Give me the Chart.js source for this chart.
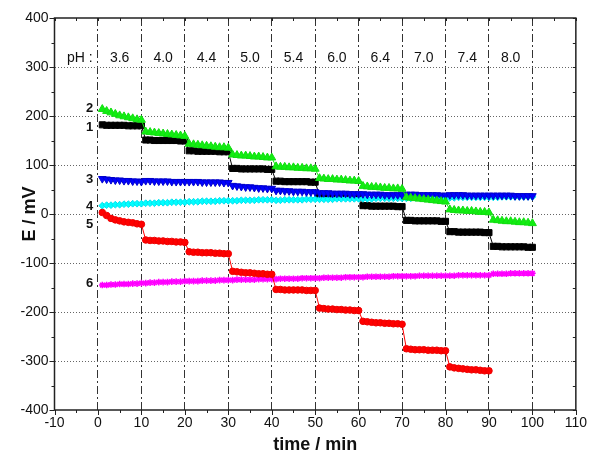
<!DOCTYPE html>
<html>
<head>
<meta charset="utf-8">
<script src="https://cdn.jsdelivr.net/npm/chart.js@4.4.0/dist/chart.umd.min.js"></script>
<style>
  html, body { margin: 0; padding: 0; background: #fff; }
</style>
</head>
<body>
<canvas id="chart" width="592" height="456"></canvas>
<script>
// one reading per minute
const minutes = [
  1, 2, 3, 4, 5, 6, 7, 8, 9, 10,
  11, 12, 13, 14, 15, 16, 17, 18, 19, 20,
  21, 22, 23, 24, 25, 26, 27, 28, 29, 30,
  31, 32, 33, 34, 35, 36, 37, 38, 39, 40,
  41, 42, 43, 44, 45, 46, 47, 48, 49, 50,
  51, 52, 53, 54, 55, 56, 57, 58, 59, 60,
  61, 62, 63, 64, 65, 66, 67, 68, 69, 70,
  71, 72, 73, 74, 75, 76, 77, 78, 79, 80,
  81, 82, 83, 84, 85, 86, 87, 88, 89, 90,
  91, 92, 93, 94, 95, 96, 97, 98, 99, 100
];

// pH of each 10 min step
const phLabels = ['3.6', '4.0', '4.4', '5.0', '5.4', '6.0', '6.4', '7.0', '7.4', '8.0'];
const phStart = [0, 10, 20, 30, 40, 50, 60, 70, 80, 90];

// E / mV for each electrode
const curve1 = [
  182, 181, 181, 181, 181, 181, 180, 180, 180, 180,
  151, 151, 150, 150, 150, 150, 150, 150, 149, 149,
  129, 129, 128, 128, 128, 128, 128, 127, 127, 127,
  93, 93, 92, 92, 92, 92, 92, 92, 91, 91,
  67, 67, 66, 66, 66, 66, 66, 66, 65, 65,
  38, 38, 37, 37, 37, 37, 37, 37, 36, 36,
  17, 17, 16, 16, 16, 16, 16, 16, 15, 15,
  -13, -13, -14, -14, -14, -14, -14, -14, -15, -15,
  -36, -36, -37, -37, -37, -37, -37, -37, -38, -38,
  -66, -66, -67, -67, -67, -67, -67, -67, -68, -68
];
const curve2 = [
  214, 210, 207, 204, 201, 199, 197, 195, 193, 192,
  168, 167, 166, 165, 164, 163, 162, 161, 160, 159,
  143, 142, 141, 140, 139, 138, 137, 136, 136, 135,
  121, 120, 119, 119, 118, 117, 117, 116, 115, 115,
  97, 96, 96, 95, 95, 94, 94, 93, 93, 92,
  73, 72, 71, 71, 70, 70, 69, 68, 68, 67,
  57, 56, 55, 55, 54, 53, 53, 52, 52, 51,
  34, 33, 32, 31, 30, 29, 28, 27, 26, 25,
  9, 8, 7, 7, 6, 6, 5, 4, 4, 3,
  -12, -13, -14, -15, -15, -16, -17, -17, -18, -19
];
const curve3 = [
  72, 71, 70, 69, 69, 68, 68, 67, 67, 66,
  68, 68, 67, 67, 67, 67, 66, 66, 66, 66,
  66, 66, 66, 65, 65, 65, 65, 65, 64, 64,
  58, 57, 56, 55, 55, 54, 53, 53, 52, 52,
  48, 48, 47, 47, 46, 46, 46, 45, 45, 45,
  43, 43, 43, 42, 42, 42, 42, 41, 41, 41,
  41, 40, 40, 40, 40, 39, 39, 39, 39, 39,
  40, 40, 40, 39, 39, 39, 39, 39, 38, 38,
  39, 39, 39, 39, 38, 38, 38, 38, 38, 38,
  38, 38, 38, 38, 38, 37, 37, 37, 37, 37
];
const curve4 = [
  17, 18, 18, 19, 19, 20, 20, 21, 21, 21,
  22, 22, 22, 23, 23, 23, 24, 24, 24, 24,
  25, 25, 25, 26, 26, 26, 26, 27, 27, 27,
  27, 27, 28, 28, 28, 28, 29, 29, 29, 29,
  28, 28, 29, 29, 29, 29, 29, 30, 30, 30,
  30, 30, 30, 30, 31, 31, 31, 31, 31, 31,
  31, 31, 31, 32, 32, 32, 32, 32, 32, 32,
  32, 32, 33, 33, 33, 33, 33, 33, 33, 33,
  33, 33, 34, 34, 34, 34, 34, 34, 34, 34,
  34, 34, 35, 35, 35, 35, 35, 35, 35, 35
];
const curve5 = [
  3, -3, -9, -12, -14, -16, -17, -18, -20, -21,
  -53, -54, -54, -55, -55, -56, -56, -57, -57, -58,
  -77, -78, -78, -79, -79, -79, -80, -80, -81, -81,
  -117, -118, -119, -120, -120, -121, -122, -122, -123, -123,
  -154, -154, -155, -155, -155, -155, -155, -156, -156, -156,
  -192, -193, -194, -194, -195, -195, -196, -196, -197, -197,
  -219, -220, -221, -222, -222, -223, -223, -224, -224, -225,
  -275, -276, -277, -277, -277, -278, -278, -278, -279, -279,
  -312, -314, -315, -316, -317, -318, -318, -319, -320, -320
];
const curve6 = [
  -145, -145, -144, -144, -143, -143, -143, -142, -142, -141,
  -141, -140, -140, -139, -139, -139, -138, -138, -138, -137,
  -137, -137, -137, -136, -136, -136, -136, -135, -135, -135,
  -135, -134, -134, -134, -134, -134, -133, -133, -133, -133,
  -133, -132, -132, -132, -132, -132, -131, -131, -131, -131,
  -131, -130, -130, -130, -130, -130, -129, -129, -129, -129,
  -129, -128, -128, -128, -128, -128, -128, -127, -127, -127,
  -127, -127, -127, -126, -126, -126, -126, -126, -126, -126,
  -126, -126, -125, -125, -125, -125, -125, -125, -125, -125,
  -122, -122, -122, -122, -121, -121, -121, -121, -121, -121
];

const font = '"Liberation Sans", Arial, sans-serif';

function pts(values) {
  return values.map((v, i) => ({x: minutes[i], y: v}));
}

function series(values, color, edge, style, radius, extra) {
  return Object.assign({
    data: pts(values),
    borderColor: color,
    borderWidth: 1,
    pointStyle: style,
    pointRadius: radius,
    pointBackgroundColor: color,
    pointBorderColor: edge,
    pointBorderWidth: 1,
    fill: false,
    tension: 0
  }, extra || {});
}

// where the curve numbers and pH row sit (data units)
const tagPos = [
  {text: '1', y: 176},
  {text: '2', y: 216},
  {text: '3', y: 70},
  {text: '4', y: 15},
  {text: '5', y: -22},
  {text: '6', y: -142}
];
const phRowY = 318;

const overlay = {
  id: 'overlay',
  afterDraw(chart) {
    const {ctx, chartArea: a, scales: {x, y}} = chart;
    ctx.save();
    ctx.strokeStyle = '#222';
    ctx.lineWidth = 1;
    ctx.beginPath();
    for (let v = -10; v <= 110; v += 5) {
      const px = Math.round(x.getPixelForValue(v)) + 0.5;
      const len = v % 10 === 0 ? 5 : 3;
      ctx.moveTo(px, a.bottom);
      ctx.lineTo(px, a.bottom + len);
      ctx.moveTo(px, a.top);
      ctx.lineTo(px, a.top + 3);
    }
    for (let v = -400; v <= 400; v += 50) {
      const py = Math.round(y.getPixelForValue(v)) + 0.5;
      const len = v % 100 === 0 ? 5 : 3;
      ctx.moveTo(a.left, py);
      ctx.lineTo(a.left - len, py);
      ctx.moveTo(a.right, py);
      ctx.lineTo(a.right - 3, py);
    }
    ctx.stroke();
    ctx.lineWidth = 1.5;
    ctx.strokeRect(a.left, a.top, a.right - a.left, a.bottom - a.top);

    ctx.fillStyle = '#111';
    ctx.textBaseline = 'middle';
    ctx.font = '14px ' + font;
    ctx.textAlign = 'right';
    ctx.fillText('pH :', x.getPixelForValue(-1.2), y.getPixelForValue(phRowY));
    ctx.textAlign = 'center';
    phLabels.forEach((t, i) => {
      ctx.fillText(t, x.getPixelForValue(phStart[i] + 5), y.getPixelForValue(phRowY));
    });

    ctx.font = 'bold 13px ' + font;
    ctx.textAlign = 'right';
    tagPos.forEach(t => {
      ctx.fillText(t.text, x.getPixelForValue(-1.1), y.getPixelForValue(t.y));
    });
    ctx.restore();
  }
};

const chart = new Chart(document.getElementById('chart'), {
  type: 'line',
  data: {
    datasets: [
      series(curve5, '#ff0000', '#ee0000', 'circle', 3.3),
      series(curve2, '#11ee11', '#11dd11', 'triangle', 4.6),
      series(curve3, '#0000ff', '#0000cc', 'triangle', 4.4, {pointRotation: 180}),
      series(curve4, '#00ffff', '#00e0ee', 'rectRot', 3.4),
      series(curve1, '#000000', '#000000', 'rect', 4.3),
      series(curve6, '#ff00ff', '#ff00ff', 'star', 3.3, {pointBorderWidth: 1.5})
    ]
  },
  options: {
    responsive: false,
    animation: false,
    layout: {padding: {top: 18, right: 12, left: 0, bottom: 0}},
    plugins: {
      legend: {display: false},
      tooltip: {enabled: false}
    },
    scales: {
      x: {
        type: 'linear',
        min: -10,
        max: 110,
        afterFit: s => { s.height = 46; },
        ticks: {
          stepSize: 10,
          padding: 5,
          maxRotation: 0,
          autoSkip: false,
          color: '#111',
          font: {family: font, size: 14}
        },
        grid: {
          drawTicks: false,
          lineWidth: 1,
          color: c => (c.tick && c.tick.value > -10 && c.tick.value < 110) ? '#333' : 'rgba(0,0,0,0)'
        },
        border: {display: false, dash: [8, 3, 2, 3]},
        title: {
          display: true,
          text: 'time / min',
          color: '#111',
          font: {family: font, size: 18, weight: 'bold'},
          padding: {top: 0, bottom: 0}
        }
      },
      y: {
        min: -400,
        max: 400,
        afterFit: s => { s.width = 54.5; },
        ticks: {
          stepSize: 100,
          padding: 6,
          color: '#111',
          font: {family: font, size: 14}
        },
        grid: {
          drawTicks: false,
          lineWidth: 1,
          color: c => (c.tick && c.tick.value > -400 && c.tick.value < 400) ? '#666' : 'rgba(0,0,0,0)'
        },
        border: {display: false, dash: [1, 2]},
        title: {
          display: true,
          text: 'E / mV',
          color: '#111',
          font: {family: font, size: 18, weight: 'bold'},
          padding: {top: 19, bottom: 0}
        }
      }
    }
  },
  plugins: [overlay]
});
</script>
</body>
</html>
